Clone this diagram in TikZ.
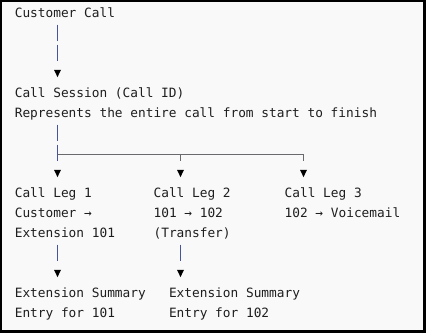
\documentclass[tikz,border=0pt]{standalone}
\usepackage{fontspec}
\setmonofont{DejaVu Sans Mono}
\usetikzlibrary{arrows.meta}
\definecolor{bgcol}{RGB}{249,249,249}
\definecolor{txtcol}{RGB}{30,30,30}
\definecolor{barcol}{RGB}{72,82,160}
\definecolor{hcol}{RGB}{105,105,110}
\tikzset{
  txt/.style={anchor=base west, inner sep=0pt, text height=10pt, text depth=3.5pt,
    text=txtcol, font=\ttfamily\fontsize{12.8pt}{20pt}\selectfont},
  tip/.style={-{Triangle[width=7pt,length=7.3pt,line width=0pt,color=black]}},
  longbar/.style={tip, draw=barcol, line width=1.1pt,
    dash pattern=on 16pt off 4pt on 16pt off 100pt, shorten <=3.5pt, shorten >=10.2pt},
  shortbar/.style={tip, draw=barcol, line width=1.1pt,
    dash pattern=on 16pt off 100pt, shorten <=3.5pt, shorten >=10.2pt},
  stub/.style={tip, draw=hcol, line width=1.1pt,
    dash pattern=on 6pt off 100pt, shorten >=10.2pt},
  hline/.style={draw=hcol, line width=1.1pt}
}
\begin{document}
\begin{tikzpicture}[x=1pt,y=-1pt]
\useasboundingbox (0,0) rectangle (426,333);
\fill[black] (0,0) rectangle (426,333);
\fill[bgcol] (2,2) rectangle (423,330);
% text lines: x = 14.6 + col*7.71, baseline = 17.5 + 20*line
\node[txt] (cc)  at (14.6,17.5)  {Customer Call};
\node[txt] (cs)  at (14.6,97.5)  {Call Session (Call ID)};
\node[txt] (rep) at (14.6,117.5) {Represents the entire call from start to finish};
\node[txt] (l1a) at (14.6,197.5) {Call Leg 1};
\node[txt] (l1b) at (14.6,217.5) {Customer →};
\node[txt] (l1c) at (14.6,237.5) {Extension 101};
\node[txt] (l2a) at (153.4,197.5) {Call Leg 2};
\node[txt] (l2b) at (153.4,217.5) {101 → 102};
\node[txt] (l2c) at (153.4,237.5) {(Transfer)};
\node[txt] (l3a) at (284.45,197.5) {Call Leg 3};
\node[txt] (l3b) at (284.45,217.5) {102 → Voicemail};
\node[txt] (e1a) at (14.6,297.5) {Extension Summary};
\node[txt] (e1b) at (14.6,317.5) {Entry for 101};
\node[txt] (e2a) at (168.8,297.5) {Extension Summary};
\node[txt] (e2b) at (168.8,317.5) {Entry for 102};
% junction points
\coordinate (j1) at (57.5,154.5);
\coordinate (j2) at (180.5,154.5);
\coordinate (j3) at (303.5,154.5);
% connectors
\draw[longbar] (cc.south -| j1) -- (cs.north -| j1);
\draw[longbar] (rep.south -| j1) -- (l1a.north -| j1);
\draw[hline] (j1) -- (j3);
\draw[stub] (j2) -- (l2a.north -| j2);
\draw[stub] (j3) -- (l3a.north -| j3);
\draw[shortbar] (l1c.south -| j1) -- (e1a.north -| j1);
\draw[shortbar] (l2c.south -| j2) -- (e2a.north -| j2);
\end{tikzpicture}
\end{document}
